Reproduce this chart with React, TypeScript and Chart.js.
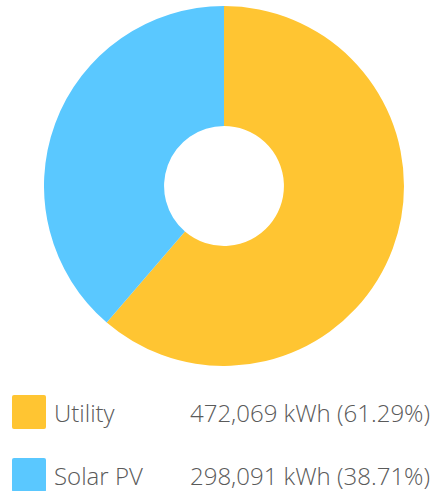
import React, { useEffect, useRef } from "react";
import { Chart, registerables } from "chart.js";

Chart.register(...registerables);

const labels: string[] = ["Utility", "Solar PV"];
const values: number[] = [472069, 298091];
const colors: string[] = ["#FFC532", "#5AC8FF"];
const unit = "kWh";

const total = values.reduce((a, b) => a + b, 0);

function fmt(v: number): string {
  return v.toLocaleString("en-US");
}

export default function App() {
  const ref = useRef<HTMLCanvasElement | null>(null);

  useEffect(() => {
    if (!ref.current) return;
    const chart = new Chart(ref.current, {
      type: "doughnut",
      data: {
        labels,
        datasets: [
          {
            data: values,
            backgroundColor: colors,
            borderWidth: 0,
            hoverOffset: 0,
          },
        ],
      },
      options: {
        animation: false,
        responsive: false,
        maintainAspectRatio: false,
        cutout: "33.3%",
        layout: { padding: 0 },
        plugins: {
          legend: { display: false },
          tooltip: { enabled: false },
        },
      },
    });
    return () => chart.destroy();
  }, []);

  return (
    <div
      style={{
        position: "absolute",
        left: 0,
        top: 0,
        width: 439,
        height: 491,
        overflow: "hidden",
        background: "#fff",
        fontFamily: "'Open Sans', sans-serif",
      }}
    >
      <canvas
        ref={ref}
        width={360}
        height={360}
        style={{ position: "absolute", left: 44, top: 6, width: 360, height: 360 }}
      />
      {labels.map((l, i) => (
        <div
          key={l}
          style={{
            position: "absolute",
            left: 12,
            top: 395 + i * 63,
            height: 34,
            display: "flex",
            alignItems: "center",
            fontSize: 24,
            fontWeight: 300,
            color: "#5a5a5a",
            whiteSpace: "nowrap",
          }}
        >
          <div
            style={{
              width: 34,
              height: 34,
              borderRadius: 2,
              background: colors[i],
              flex: "none",
            }}
          />
          <div style={{ position: "absolute", left: 42 }}>{l}</div>
          <div style={{ position: "absolute", left: 178 }}>
            {fmt(values[i])} {unit} ({((values[i] / total) * 100).toFixed(2)}%)
          </div>
        </div>
      ))}
    </div>
  );
}
